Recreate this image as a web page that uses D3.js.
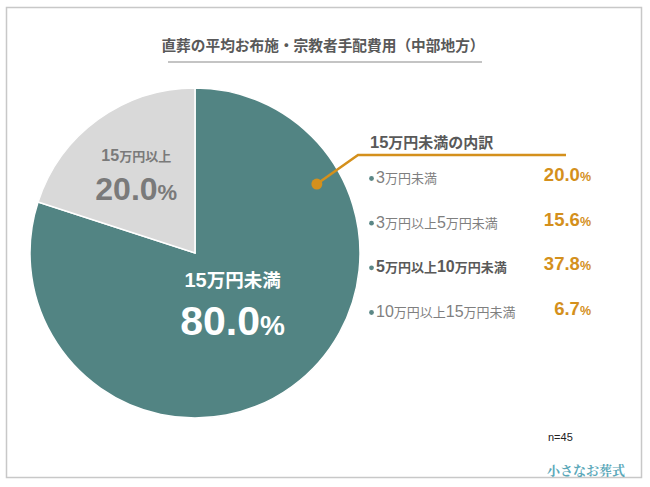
<!DOCTYPE html>
<html>
<head>
<meta charset="utf-8">
<script src="https://cdn.jsdelivr.net/npm/d3@7"></script>
<style>
  html, body { margin: 0; padding: 0; background: #fff; }
  svg { display: block; font-family: "Liberation Sans", Arial, "Noto Sans CJK JP", sans-serif; }
</style>
</head>
<body>
<svg id="chart" width="650" height="487"></svg>
<script>
const title = "直葬の平均お布施・宗教者手配費用（中部地方）";
const mainLabels = ["15万円未満", "15万円以上"];
const mainValues = [80.0, 20.0];
const breakdownTitle = "15万円未満の内訳";
const breakdownLabels = ["3万円未満", "3万円以上5万円未満", "5万円以上10万円未満", "10万円以上15万円未満"];
const breakdownValues = [20.0, 15.6, 37.8, 6.7];
const sampleNote = "n=45";
const brand = "小さなお葬式";

const width = 650;
const height = 487;
const cx = 195, cy = 253, radius = 165;
const colors = ["#528483", "#d9d9d9"];
const orange = "#d4901c";

const svg = d3.select("#chart").attr("viewBox", `0 0 ${width} ${height}`);

// splits a string into digit / % / cjk runs so each can get its own size
function mixed(text, str, big, small, pct) {
  const runs = str.match(/%|[\x00-\x24\x26-\x7F]+|[^\x00-\x7F]+/g);
  runs.forEach((r) => {
    const size = r === "%" ? (pct || small) : /^[\x00-\x7F]+$/.test(r) ? big : small;
    text.append("tspan").attr("font-size", size).text(r);
  });
  return text;
}

// frame
svg.append("rect")
  .attr("x", 6.5).attr("y", 7.5)
  .attr("width", 635).attr("height", 470)
  .attr("fill", "none")
  .attr("stroke", "#c8c8c8")
  .attr("stroke-width", 1.5);

// title
svg.append("text")
  .attr("x", 323).attr("y", 51)
  .attr("text-anchor", "middle")
  .attr("font-size", 14.7)
  .attr("font-weight", "bold")
  .attr("fill", "#595959")
  .text(title);

svg.append("line")
  .attr("x1", 168).attr("x2", 482)
  .attr("y1", 62).attr("y2", 62)
  .attr("stroke", "#c4c4c4")
  .attr("stroke-width", 2);

// pie
const pie = d3.pie().sort(null).value((d) => d);
const arcs = pie(mainValues);
const arc = d3.arc().innerRadius(0).outerRadius(radius);

const g = svg.append("g").attr("transform", `translate(${cx},${cy})`);

g.selectAll("path")
  .data(arcs)
  .join("path")
  .attr("d", arc)
  .attr("fill", (d, i) => colors[i])
  .attr("stroke", "#fff")
  .attr("stroke-width", 1.5);

// slice labels
const labelRadius = [64, 100];
const labelStyle = [
  { fill: "#ffffff", big: 20, small: 18.5, num: 41, pct: 28, dy1: -18, dy2: 30 },
  { fill: "#7a7a7a", big: 16, small: 13, num: 32, pct: 22, dy1: -11, dy2: 28 }
];

arcs.forEach((a, i) => {
  const c = d3.arc().innerRadius(labelRadius[i]).outerRadius(labelRadius[i]).centroid(a);
  const s = labelStyle[i];
  const t1 = g.append("text")
    .attr("x", c[0]).attr("y", c[1] + s.dy1)
    .attr("text-anchor", "middle")
    .attr("font-weight", "bold")
    .attr("fill", s.fill);
  mixed(t1, mainLabels[i], s.big, s.small);
  const t2 = g.append("text")
    .attr("x", c[0]).attr("y", c[1] + s.dy2)
    .attr("text-anchor", "middle")
    .attr("font-weight", "bold")
    .attr("fill", s.fill);
  mixed(t2, mainValues[i].toFixed(1) + "%", s.num, s.num, s.pct);
});

// callout from the main slice
const dot = d3.pointRadial((60.5 * Math.PI) / 180, 140);
const elbow = [358 - cx, 155 - cy];
g.append("path")
  .attr("d", d3.line()([dot, elbow, [566 - cx, 155 - cy]]))
  .attr("fill", "none")
  .attr("stroke", orange)
  .attr("stroke-width", 2.5);
g.append("circle")
  .attr("cx", dot[0]).attr("cy", dot[1])
  .attr("r", 5.5)
  .attr("fill", orange);

// breakdown list
const header = svg.append("text")
  .attr("x", 370).attr("y", 148)
  .attr("font-weight", "bold")
  .attr("fill", "#595959");
mixed(header, breakdownTitle, 16.5, 15);

const y = d3.scalePoint()
  .domain(breakdownLabels)
  .range([183, 317]);

const maxIdx = breakdownValues.indexOf(d3.max(breakdownValues));

const rows = svg.append("g")
  .selectAll("g")
  .data(breakdownLabels)
  .join("g")
  .attr("transform", (d) => `translate(0,${y(d)})`);

rows.append("circle")
  .attr("cx", 371.5).attr("cy", -4.5)
  .attr("r", 2.4)
  .attr("fill", "#5b8786");

rows.each(function (d, i) {
  const bold = i === maxIdx;
  const t = d3.select(this).append("text")
    .attr("x", 376).attr("y", 0)
    .attr("font-weight", bold ? "bold" : "normal")
    .attr("fill", bold ? "#595959" : "#7f7f7f");
  mixed(t, d, 16, 13);

  const v = d3.select(this).append("text")
    .attr("x", 591).attr("y", -2)
    .attr("text-anchor", "end")
    .attr("font-weight", "bold")
    .attr("fill", orange);
  mixed(v, breakdownValues[i].toFixed(1) + "%", 18.5, 18.5, 12.5);
});

// footer
svg.append("text")
  .attr("x", 548).attr("y", 441)
  .attr("font-size", 11)
  .attr("fill", "#222")
  .text(sampleNote);

svg.append("text")
  .attr("x", 547).attr("y", 475)
  .attr("font-size", 13)
  .attr("font-weight", "bold")
  .attr("font-family", "'Noto Serif CJK JP', 'Noto Sans CJK JP', serif")
  .attr("fill", "#5ba8b9")
  .text(brand);
</script>
</body>
</html>
